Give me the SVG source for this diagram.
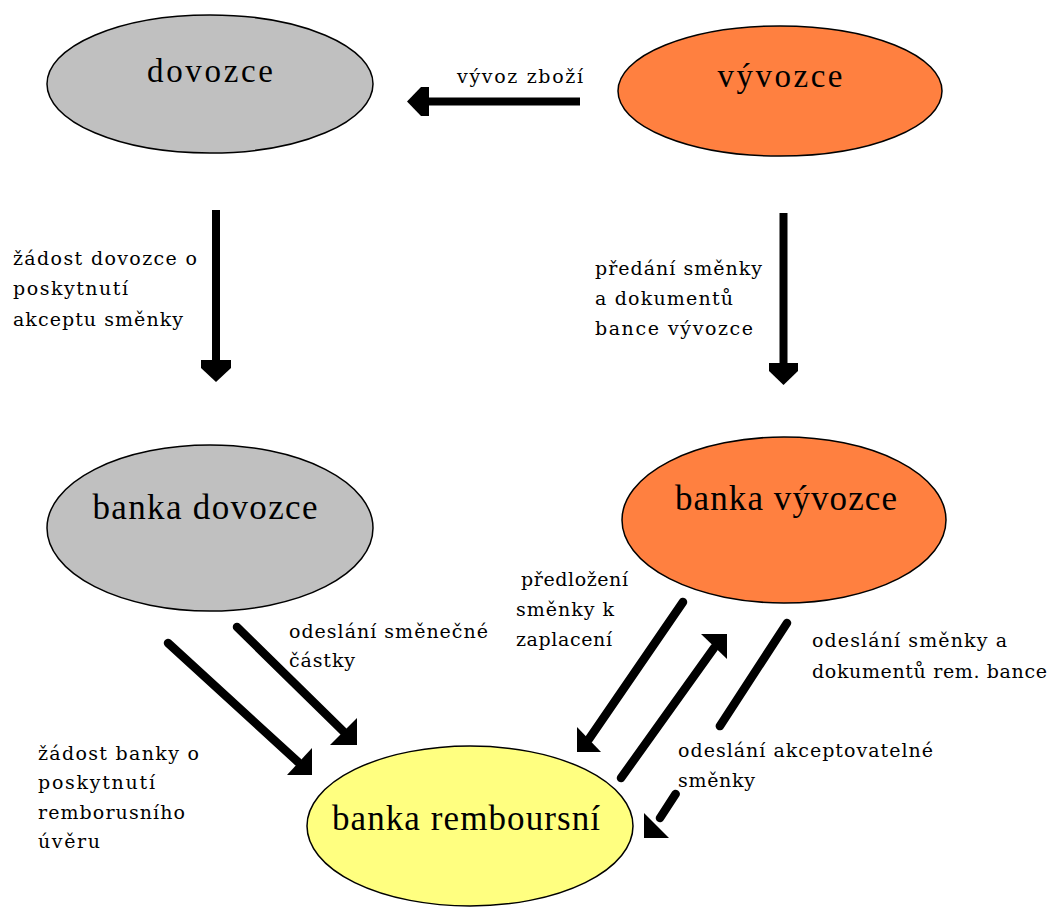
<svg xmlns="http://www.w3.org/2000/svg" width="1052" height="907" viewBox="0 0 1052 907">
  <style>
    .node { stroke: #000; stroke-width: 1.5; }
    .grey { fill: #c0c0c0; }
    .orange { fill: #ff8040; }
    .yellow { fill: #ffff80; }
    .title { font-family: "Liberation Serif", "Times New Roman", serif; font-size: 33px; fill: #000; text-anchor: middle; }
    .big { font-size: 35px; }
    .lbl { font-family: "DejaVu Serif", "Liberation Serif", serif; font-size: 19px; fill: #000; }
    .shaft { stroke: #000; fill: none; stroke-width: 8; }
    .diag { stroke-width: 8.5; stroke-linecap: round; }
    .head { fill: #000; stroke: none; }
  </style>
  <rect width="1052" height="907" fill="#fff"/>

  <!-- connectors -->
  <g id="connectors">
    <!-- vyvozce -> dovozce -->
    <line class="shaft" x1="580" y1="101.5" x2="428" y2="101.5"/>
    <polygon class="head" points="407,101.5 421,87 429,87 429,116 421,116"/>
    <!-- dovozce -> banka dovozce -->
    <line class="shaft" x1="216" y1="210" x2="216" y2="361"/>
    <polygon class="head" points="201,360 231,360 231,368 216,382 201,368"/>
    <!-- vyvozce -> banka vyvozce -->
    <line class="shaft" x1="783.5" y1="213" x2="783.5" y2="364"/>
    <polygon class="head" points="769,363 798,363 798,371 783.5,385 769,371"/>
    <!-- banka dovozce -> banka remboursni (request) -->
    <line class="shaft diag" x1="168" y1="643" x2="298" y2="762"/>
    <polygon class="head" points="287,775 312,775 312,748"/>
    <!-- banka dovozce -> banka remboursni (payment) -->
    <line class="shaft diag" x1="237" y1="627" x2="344" y2="732"/>
    <polygon class="head" points="330,745 357,745 357,718"/>
    <!-- banka vyvozce -> banka remboursni (presentation) -->
    <line class="shaft diag" x1="683" y1="602" x2="589" y2="739"/>
    <polygon class="head" points="577,752 601,752 577,727"/>
    <!-- banka remboursni -> banka vyvozce (acceptable bill) -->
    <line class="shaft diag" x1="621" y1="778" x2="714" y2="648"/>
    <polygon class="head" points="701,634 727,634 727,659"/>
    <!-- banka vyvozce -> banka remboursni (bill and documents), broken under its label -->
    <path class="shaft diag" d="M787,623 L660,818" stroke-dasharray="123 81 200"/>
    <polygon class="head" points="644,813 644,838 669,838"/>
  </g>

  <!-- nodes -->
  <g id="dovozce">
    <ellipse class="node grey" cx="210" cy="84" rx="163" ry="69"/>
    <text class="title" x="210" y="82" textLength="126" lengthAdjust="spacing">dovozce</text>
  </g>
  <g id="vyvozce">
    <ellipse class="node orange" cx="780" cy="91" rx="162" ry="65"/>
    <text class="title" x="780" y="87" textLength="125" lengthAdjust="spacing">vývozce</text>
  </g>
  <g id="banka-dovozce">
    <ellipse class="node grey" cx="210" cy="528" rx="163" ry="83"/>
    <text class="title big" x="205" y="519" textLength="225" lengthAdjust="spacing">banka dovozce</text>
  </g>
  <g id="banka-vyvozce">
    <ellipse class="node orange" cx="784" cy="520" rx="162" ry="83"/>
    <text class="title big" x="786" y="510" textLength="222" lengthAdjust="spacing">banka vývozce</text>
  </g>
  <g id="banka-remboursni">
    <ellipse class="node yellow" cx="470" cy="826" rx="163" ry="80"/>
    <text class="title big" x="466" y="830" textLength="268" lengthAdjust="spacing">banka remboursní</text>
  </g>

  <!-- connector labels -->
  <g id="labels">
    <text class="lbl" x="457" y="83" textLength="126" lengthAdjust="spacing">vývoz zboží</text>

    <text class="lbl" x="13" y="265" textLength="184" lengthAdjust="spacing">žádost dovozce o</text>
    <text class="lbl" x="13" y="295" textLength="115" lengthAdjust="spacing">poskytnutí</text>
    <text class="lbl" x="13" y="326" textLength="170" lengthAdjust="spacing">akceptu směnky</text>

    <text class="lbl" x="595" y="275" textLength="167" lengthAdjust="spacing">předání směnky</text>
    <text class="lbl" x="595" y="305" textLength="138" lengthAdjust="spacing">a dokumentů</text>
    <text class="lbl" x="595" y="335" textLength="158" lengthAdjust="spacing">bance vývozce</text>

    <text class="lbl" x="289" y="638" textLength="199" lengthAdjust="spacing">odeslání směnečné</text>
    <text class="lbl" x="289" y="667" textLength="66" lengthAdjust="spacing">částky</text>

    <text class="lbl" x="38" y="760" textLength="161" lengthAdjust="spacing">žádost banky o</text>
    <text class="lbl" x="38" y="789" textLength="117" lengthAdjust="spacing">poskytnutí</text>
    <text class="lbl" x="38" y="819" textLength="147" lengthAdjust="spacing">remborusního</text>
    <text class="lbl" x="38" y="848" textLength="62" lengthAdjust="spacing">úvěru</text>

    <text class="lbl" x="521" y="586" textLength="107" lengthAdjust="spacing">předložení</text>
    <text class="lbl" x="516" y="616" textLength="98" lengthAdjust="spacing">směnky k</text>
    <text class="lbl" x="516" y="646" textLength="96" lengthAdjust="spacing">zaplacení</text>

    <text class="lbl" x="812" y="647" textLength="195" lengthAdjust="spacing">odeslání směnky a</text>
    <text class="lbl" x="812" y="678" textLength="235" lengthAdjust="spacing">dokumentů rem. bance</text>

    <text class="lbl" x="678" y="757" textLength="255" lengthAdjust="spacing">odeslání akceptovatelné</text>
    <text class="lbl" x="678" y="787" textLength="77" lengthAdjust="spacing">směnky</text>
  </g>
</svg>
